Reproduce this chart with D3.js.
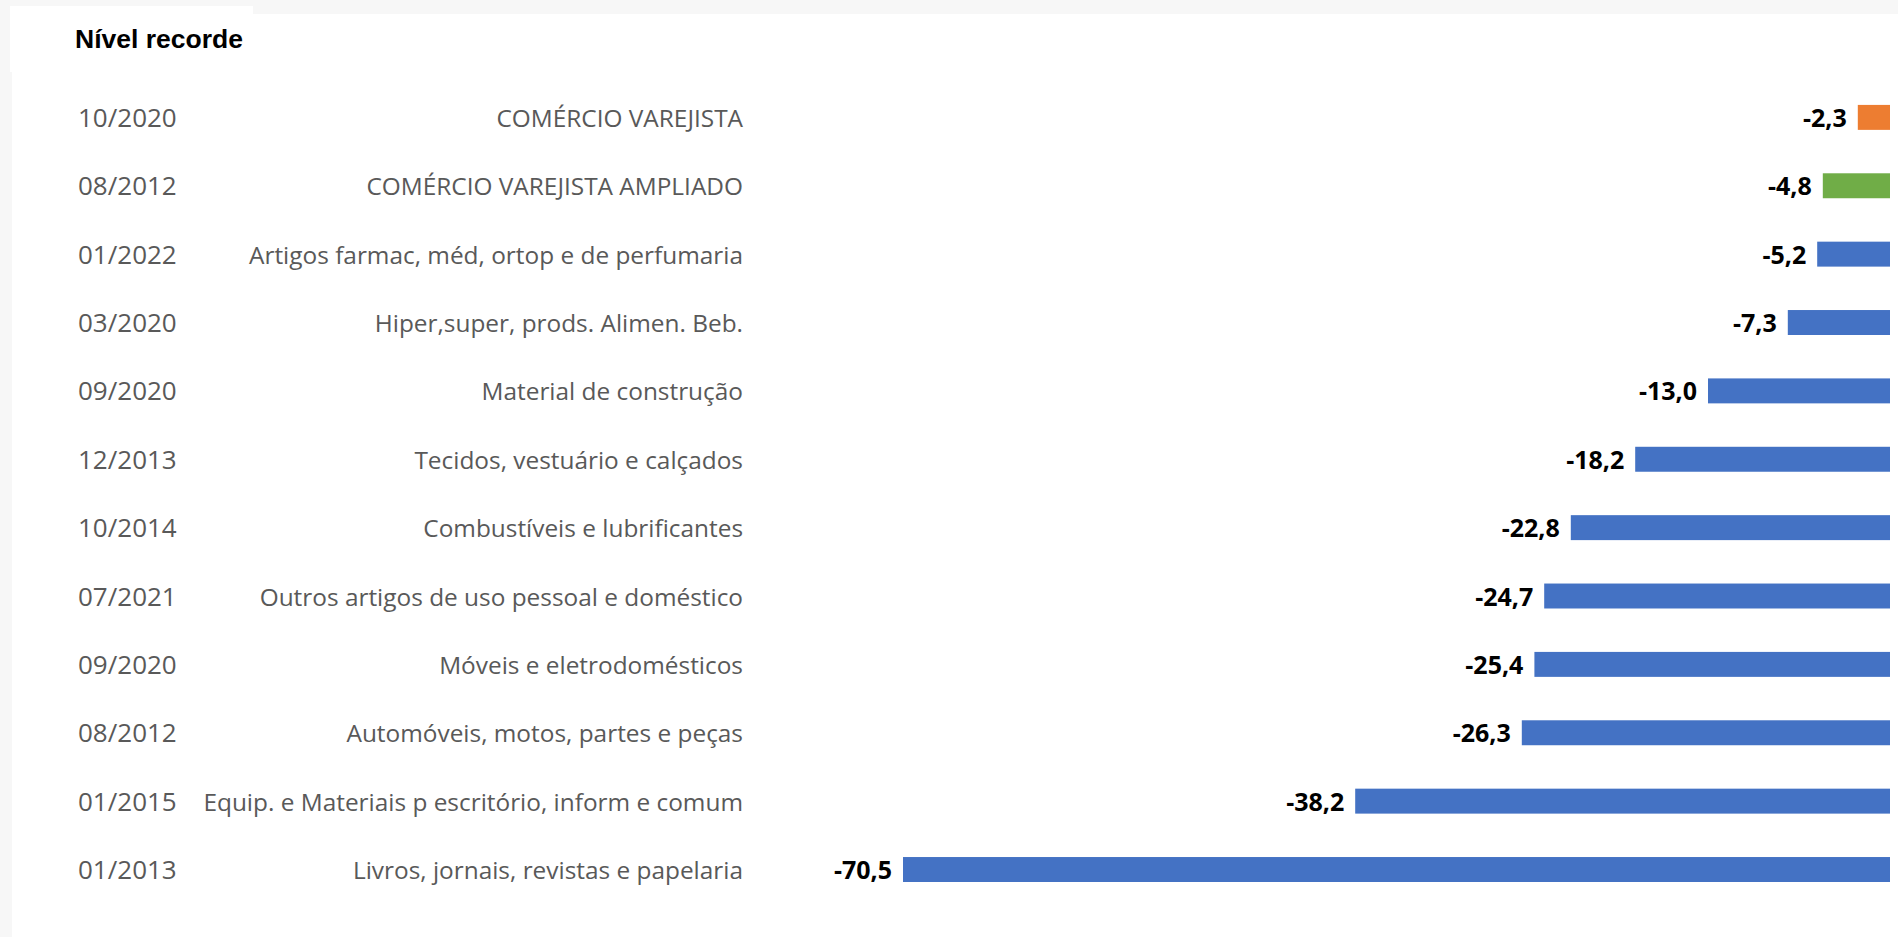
<!DOCTYPE html>
<html>
<head>
<meta charset="utf-8">
<script src="https://cdn.jsdelivr.net/npm/d3@7"></script>
<style>
  html, body { margin: 0; padding: 0; background: #f7f7f7; }
  svg { display: block; }
</style>
</head>
<body>
<div id="chart"></div>
<script>
  // ── Data ──────────────────────────────────────────────────────────────────
  const dates = [
    "10/2020", "08/2012", "01/2022", "03/2020", "09/2020", "12/2013",
    "10/2014", "07/2021", "09/2020", "08/2012", "01/2015", "01/2013",
  ];
  const categories = [
    "COMÉRCIO VAREJISTA",
    "COMÉRCIO VAREJISTA AMPLIADO",
    "Artigos farmac, méd, ortop e de perfumaria",
    "Hiper,super, prods. Alimen. Beb.",
    "Material de construção",
    "Tecidos, vestuário e calçados",
    "Combustíveis e lubrificantes",
    "Outros artigos de uso pessoal e doméstico",
    "Móveis e eletrodomésticos",
    "Automóveis, motos, partes e peças",
    "Equip. e Materiais p escritório, inform e comum",
    "Livros, jornais, revistas e papelaria",
  ];
  const values = [-2.3, -4.8, -5.2, -7.3, -13.0, -18.2, -22.8, -24.7, -25.4, -26.3, -38.2, -70.5];
  const groups = ["total", "ampliado", "item", "item", "item", "item", "item", "item", "item", "item", "item", "item"];

  const COLORS = { total: "#ed7d31", ampliado: "#70ad47", item: "#4472c4" };
  const W = 1898, H = 937;
  const fmt = (v) => v.toFixed(1).replace(".", ",");

  const svg = d3.select("#chart").append("svg")
    .attr("width", W).attr("height", H);

  // Panels
  svg.append("rect").attr("x", 12).attr("y", 14).attr("width", W - 12).attr("height", H - 14).attr("fill", "#fff");
  svg.append("rect").attr("x", 10).attr("y", 6).attr("width", 243).attr("height", 66).attr("fill", "#fff");

  svg.append("text").attr("x", 75).attr("y", 48)
    .attr("font-family", "'Liberation Sans', Arial, sans-serif")
    .attr("font-weight", "bold").attr("font-size", "26.5px").attr("fill", "#000")
    .text("Nível recorde");

  // ── Scales ────────────────────────────────────────────────────────────────
  const x = d3.scaleLinear().domain([-70.5, 0]).range([903, 1890]);
  const y = d3.scaleBand().domain(d3.range(values.length))
    .range([83.2, 903.7]).paddingInner(0.635).paddingOuter(0.3175);

  const rows = svg.append("g").selectAll("g").data(values).join("g");
  const cy = (i) => y(i) + y.bandwidth() / 2;

  const labelFont = "'Open Sans', Carlito, sans-serif";

  rows.append("text")
    .attr("x", 78).attr("y", (d, i) => cy(i) + 9.5)
    .attr("font-family", labelFont).attr("font-size", "26px").attr("fill", "#595959")
    .text((d, i) => dates[i]);

  rows.append("text")
    .attr("x", 743).attr("y", (d, i) => cy(i) + 9.5)
    .attr("text-anchor", "end")
    .attr("font-family", labelFont).attr("font-size", "24.4px").attr("fill", "#595959")
    .text((d, i) => categories[i]);

  rows.append("rect")
    .attr("x", (d) => x(d)).attr("y", (d, i) => y(i))
    .attr("width", (d) => x(0) - x(d)).attr("height", y.bandwidth())
    .attr("fill", (d, i) => COLORS[groups[i]]);

  rows.append("text")
    .attr("x", (d) => x(d) - 11).attr("y", (d, i) => cy(i) + 9.5)
    .attr("text-anchor", "end")
    .attr("font-family", labelFont).attr("font-weight", "bold")
    .attr("font-size", "25px").attr("fill", "#000")
    .text((d) => fmt(d));
</script>
</body>
</html>
